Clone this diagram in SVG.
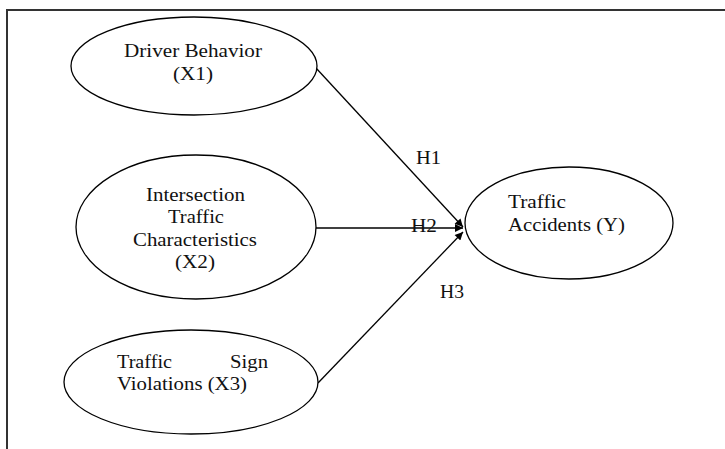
<svg xmlns="http://www.w3.org/2000/svg" width="725" height="449" viewBox="0 0 725 449">
<style>
.node ellipse{fill:#fff;stroke:#000;stroke-width:1.3}
text{font-family:"Liberation Serif","Times New Roman",serif;font-size:18px;fill:#111}
.c{text-anchor:middle}
.edge{stroke:#000;stroke-width:1.3;fill:none;marker-end:url(#ah)}
</style>
<defs>
<marker id="ah" viewBox="0 0 10 10" refX="10" refY="5" markerWidth="10" markerHeight="8" markerUnits="userSpaceOnUse" orient="auto">
<path d="M0,0 L10,5 L0,10 z" fill="#000"/>
</marker>
</defs>
<rect width="725" height="449" fill="#fff"/>
<path d="M7,449 V10 H725" fill="none" stroke="#333" stroke-width="2"/>
<g id="connectors">
<line class="edge" x1="316" y1="68" x2="463" y2="227"/>
<line class="edge" x1="316" y1="228" x2="463" y2="228"/>
<line class="edge" x1="318" y1="383" x2="463" y2="232"/>
<text x="416" y="164" textLength="25" lengthAdjust="spacingAndGlyphs">H1</text>
<text x="411" y="232" textLength="26" lengthAdjust="spacingAndGlyphs">H2</text>
<text x="440" y="298" textLength="24" lengthAdjust="spacingAndGlyphs">H3</text>
</g>
<g id="x1" class="node">
<ellipse cx="194" cy="66" rx="123" ry="49"/>
<text x="124" y="57" textLength="138" lengthAdjust="spacingAndGlyphs">Driver Behavior</text>
<text x="173" y="80" textLength="40" lengthAdjust="spacingAndGlyphs">(X1)</text>
</g>
<g id="x2" class="node">
<ellipse cx="196" cy="227" rx="120" ry="72"/>
<text x="146" y="201" textLength="99" lengthAdjust="spacingAndGlyphs">Intersection</text>
<text x="168" y="223" textLength="56" lengthAdjust="spacingAndGlyphs">Traffic</text>
<text x="133" y="246" textLength="124" lengthAdjust="spacingAndGlyphs">Characteristics</text>
<text x="175" y="268" textLength="40" lengthAdjust="spacingAndGlyphs">(X2)</text>
</g>
<g id="x3" class="node">
<ellipse cx="191" cy="382" rx="127" ry="52"/>
<text x="117" y="368" textLength="55" lengthAdjust="spacingAndGlyphs">Traffic</text>
<text x="230" y="368" textLength="38" lengthAdjust="spacingAndGlyphs">Sign</text>
<text x="117" y="390" textLength="130" lengthAdjust="spacingAndGlyphs">Violations (X3)</text>
</g>
<g id="y" class="node">
<ellipse cx="569" cy="223" rx="104" ry="56"/>
<text x="508" y="208" textLength="58" lengthAdjust="spacingAndGlyphs">Traffic</text>
<text x="508" y="231" textLength="117" lengthAdjust="spacingAndGlyphs">Accidents (Y)</text>
</g>
</svg>
